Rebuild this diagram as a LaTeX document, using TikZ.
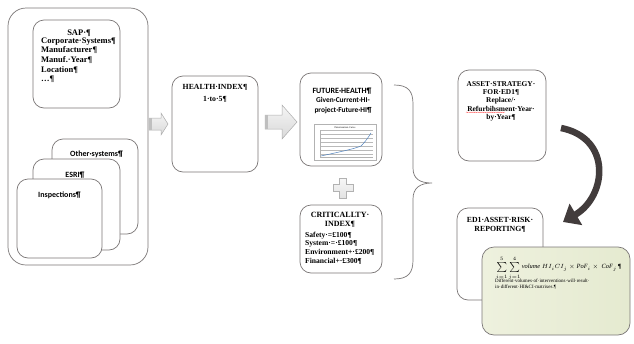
\documentclass[tikz,border=0pt]{standalone}
\usepackage{fontspec}
\setmainfont{Liberation Serif}
\newfontfamily\carl{Carlito}
\usetikzlibrary{arrows.meta,decorations.pathmorphing}
\definecolor{boxline}{HTML}{7A7676}
\definecolor{arrowdark}{HTML}{423C3C}
\definecolor{greenA}{HTML}{EEF1DE}
\definecolor{greenB}{HTML}{E5EAD0}
\definecolor{chartblue}{HTML}{4F81BD}
\begin{document}
\begin{tikzpicture}[x=1pt,y=-1pt,
  rbox/.style={draw=boxline, line width=0.7pt, rounded corners=11pt, fill=white, inner sep=0pt, outer sep=0pt},
  sb/.style={font=\fontsize{8.5}{9.6}\selectfont\bfseries, inner sep=0pt},
  sbs/.style={font=\fontsize{7.4}{8.3}\selectfont\bfseries, inner sep=0pt},
  cs/.style={font=\carl\fontsize{8}{10}\selectfont\bfseries, inner sep=0pt},
  blockarrow/.style={top color=gray!8, bottom color=gray!30, draw=gray!65, line width=0.5pt},
  grayline/.style={draw=boxline, line width=0.7pt}
]
\useasboundingbox (0,0) rectangle (634,343);

% left group
\node[rbox, rounded corners=18pt, minimum width=140pt, minimum height=257pt] (outer) at (78,136.5) {};
\node[rbox, minimum width=87pt, minimum height=88pt] (sap) at (76.5,64) {};
\node[sb, anchor=base] (saptitle) at (79,35) {SAP·¶};
\node[sb, anchor=north west, align=left] (saplist) at (41,37.5) {Corporate·Systems¶\\Manufacturer¶\\Manuf.·Year¶\\Location¶\\…¶};

\node[rbox, minimum width=86pt, minimum height=95pt] (other) at (95,186.5) {};
\node[cs, anchor=base] (othert) at (96.5,156) {Other·systems¶};
\node[rbox, minimum width=87pt, minimum height=91pt] (esri) at (76.5,204.5) {};
\node[cs, anchor=base] (esrit) at (75,177) {ESRI¶};
\node[rbox, minimum width=85pt, minimum height=79pt] (insp) at (59.5,218.5) {};
\node[cs, anchor=base] (inspt) at (59.5,197) {Inspections¶};

% arrow 1
\path[blockarrow] (149,118) -- (161,118) -- (161,113) -- (168,124) -- (161,135) -- (161,130) -- (149,130) -- cycle;
\fill[gray!50] (149.3,118.3) rectangle (151.5,129.7);

% health index
\node[rbox, minimum width=86pt, minimum height=96pt] (health) at (215,124) {};
\node[sb, font=\fontsize{7.8}{12}\selectfont\bfseries, anchor=north, align=center] (healtht) at (215,84.5) {HEALTH·INDEX¶\\1·to·5¶};

% arrow 2
\path[blockarrow] (265,115) -- (282,115) -- (282,105) -- (297,122) -- (282,139) -- (282,129) -- (265,129) -- cycle;
\fill[gray!50] (265.3,115.3) rectangle (268,128.7);

% future health
\node[rbox, minimum width=82pt, minimum height=93pt] (future) at (341,119.5) {};
\node[cs, anchor=base] (futuret) at (342,93) {FUTURE·HEALTH¶};
\node[cs, font=\carl\fontsize{7.4}{10}\selectfont\bfseries, anchor=north, align=center] (futuresub) at (343,97) {Given·Current·HI-\\project·Future·HI¶};
\node[draw=gray!60, line width=0.4pt, fill=white, minimum width=62pt, minimum height=36pt, inner sep=0pt] (chart) at (345,142) {};
\node[font=\fontsize{2.6}{3}\selectfont, inner sep=0pt] (charttitle) at (345,127.5) {Deterioration Curve};
\foreach \yy in {130,134,138,142,146,150,154} {\draw[gray!55, line width=0.25pt] (320,\yy) -- (373,\yy);}
\draw[gray!60, line width=0.3pt] (320,130) -- (320,157) -- (373,157);
\draw[chartblue, line width=0.5pt] (321,156) .. controls (339,152) and (354,149) .. (361,146) .. controls (365,142) and (368,138) .. (371,133);

% plus
\path[top color=gray!6, bottom color=gray!22, draw=gray!60, line width=0.5pt]
  (339.5,178) -- (346.5,178) -- (346.5,184.5) -- (353,184.5) -- (353,191.5) -- (346.5,191.5) -- (346.5,198) -- (339.5,198) -- (339.5,191.5) -- (333,191.5) -- (333,184.5) -- (339.5,184.5) -- cycle;

% criticality
\node[rbox, minimum width=82pt, minimum height=68pt] (crit) at (341,239) {};
\node[sb, font=\fontsize{8}{9}\selectfont\bfseries, anchor=north, align=center] (critt) at (340,211.5) {CRITICALLTY·\\INDEX¶};
\node[sb, font=\fontsize{7.6}{8.8}\selectfont\bfseries, anchor=north west, align=left] (critlist) at (305,231.5) {Safety·=£100¶\\System·=·£100¶\\Environment+·£200¶\\Financial+·£300¶};

% brace
\draw[grayline] (394,85) .. controls (408,85) and (413,91) .. (413,104) -- (413,168)
  .. controls (413,179) and (420,183) .. (432,183)
  .. controls (420,183) and (413,188) .. (413,199) -- (413,260)
  .. controls (413,273) and (408,279) .. (394,279);

% asset strategy
\node[rbox, minimum width=88pt, minimum height=91pt] (asset) at (502,115.5) {};
\node[sbs, anchor=north, align=center] (assett) at (501,81) {ASSET·STRATEGY·\\FOR·ED1¶\\Replace/·\\Refurbihsment·Year·\\by·Year¶};
\draw[red!70, line width=0.3pt, decorate, decoration={snake, amplitude=0.35pt, segment length=1.8pt}] (466,112.3) -- (505,112.3);

% curved arrow
\draw[arrowdark, line width=6.5pt, -{Triangle[length=15pt,width=24pt]}] (561,128) .. controls (612,138) and (607,196) .. (563,222);

% ED1 reporting
\node[rbox, minimum width=86pt, minimum height=92pt] (ed1) at (500,254) {};
\node[sb, font=\fontsize{7.8}{9}\selectfont\bfseries, anchor=north, align=center] (ed1t) at (500,217.5) {ED1·ASSET·RISK·\\REPORTING¶};

% green box
\node[draw=boxline, line width=0.7pt, rounded corners=12pt, left color=greenA, right color=greenB, minimum width=148pt, minimum height=88pt, inner sep=0pt] (green) at (556,291) {};
\node[anchor=north west, inner sep=0pt, font=\fontsize{6.4}{7}\selectfont] (formula) at (496,256) {$\sum\limits_{i=1}^{5}\sum\limits_{j=1}^{4} \mathit{volume}\ HI_iCI_j \times \mathit{PoF}_i \times\ \mathit{CoF}_j$\,\textbf{¶}};
\node[anchor=north west, align=left, inner sep=0pt, font=\fontsize{5}{6.5}\selectfont] (greentext) at (495,278.5) {Different·volumes·of·interventions·will·result·\\in·different·HI\&CI·matrixes.¶};
\end{tikzpicture}
\end{document}
